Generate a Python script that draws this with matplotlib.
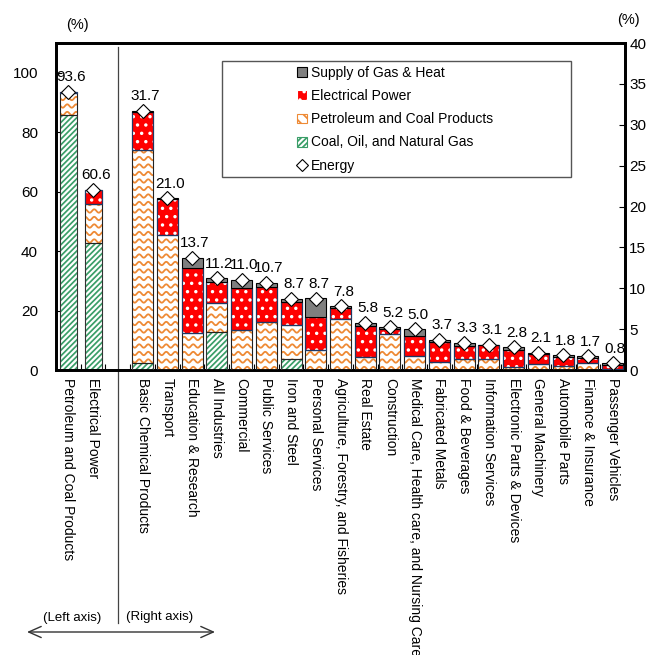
import matplotlib
matplotlib.use('Agg')
import matplotlib.pyplot as plt
import matplotlib.transforms as mtransforms
import numpy as np
from matplotlib.patches import Patch, Rectangle
from matplotlib.lines import Line2D
from matplotlib.collections import LineCollection

plt.rcParams['font.family'] = ['Liberation Sans', 'DejaVu Sans']
plt.rcParams['hatch.linewidth'] = 1.25

#================
# Data
#================

# left axis (%)
left_names = ['Petroleum and Coal Products', 'Electrical Power']
left_coal = [85.9, 42.6]
left_petro = [7.2, 13.4]
left_elec = [0.5, 4.6]
left_gas = [0.0, 0.0]
left_energy = [93.6, 60.6]

# right axis (%)
right_names = ['Basic Chemical Products', 'Transport', 'Education & Research',
               'All Industries', 'Commercial', 'Public Services', 'Iron and Steel',
               'Personal Services', 'Agriculture, Forestry, and Fisheries',
               'Real Estate', 'Construction',
               'Medical Care, Health care, and Nursing Care', 'Fabricated Metals',
               'Food & Beverages', 'Information Services',
               'Electronic Parts & Devices', 'General Machinery',
               'Automobile Parts', 'Finance & Insurance', 'Passenger Vehicles']
right_coal = [0.8, 0, 0, 4.6, 0, 0, 1.3, 0, 0, 0, 0, 0, 0, 0, 0, 0, 0, 0, 0, 0]
right_petro = [26.1, 16.5, 4.5, 3.6, 4.9, 5.9, 4.2, 2.4, 6.2, 1.6, 4.4, 1.7,
               1.0, 1.3, 1.4, 0.4, 0.7, 0.5, 0.9, 0.1]
right_elec = [4.7, 4.4, 8.0, 2.6, 5.1, 4.3, 2.8, 4.1, 1.4, 3.8, 0.6, 2.5,
              2.4, 1.6, 1.6, 2.1, 1.3, 1.1, 0.6, 0.5]
right_gas = [0.1, 0.1, 1.2, 0.5, 1.0, 0.5, 0.4, 2.3, 0.2, 0.4, 0.2, 0.8,
             0.3, 0.4, 0.1, 0.3, 0.1, 0.2, 0.2, 0.2]
right_energy = [31.7, 21.0, 13.7, 11.2, 11.0, 10.7, 8.7, 8.7, 7.8, 5.8, 5.2, 5.0,
                3.7, 3.3, 3.1, 2.8, 2.1, 1.8, 1.7, 0.8]

GREEN = '#3A9E68'
ORANGE = '#EE8A35'
RED = '#FF0000'
NAVY = '#1F3864'
GRAY = '#7F7F7F'

#===============
# Plot setup
#===============
fig = plt.figure(figsize=(6.46, 6.55), dpi=100)
ax = fig.add_axes([56 / 646, 1 - 370 / 655, 569 / 646, 327 / 655])
ax2 = ax.twinx()

x_left = np.arange(len(left_names))
x_right = np.arange(len(right_names)) + len(left_names) + 1

ax_w = 569.0
ax_h = 327.0


def waves(axis, patch):
    # wavy orange pattern clipped to the bar
    t = np.linspace(0, ax_w, 900)
    segs = []
    for yy in np.arange(-6, ax_h + 10, 7.5):
        segs.append(np.column_stack([t / ax_w,
                                     (yy + 1.7 * np.sin(2 * np.pi * t / 9.0)) / ax_h]))
    lc = LineCollection(segs, colors=ORANGE, linewidths=1.3,
                        transform=axis.transAxes, zorder=2.5)
    axis.add_collection(lc)
    lc.set_clip_path(patch)


def stack(axis, x, coal, petro, elec, gas, width):
    x = np.asarray(x, float)
    coal = np.asarray(coal, float)
    petro = np.asarray(petro, float)
    elec = np.asarray(elec, float)
    gas = np.asarray(gas, float)
    b1 = coal
    b2 = coal + petro
    b3 = b2 + elec

    m = coal > 0
    axis.bar(x[m], coal[m], width, color='white', edgecolor=GREEN,
             hatch='//////', linewidth=0, zorder=2)
    axis.bar(x[m], coal[m], width, fill=False, edgecolor='#333333',
             linewidth=0.8, zorder=3)

    m = petro > 0
    bars = axis.bar(x[m], petro[m], width, bottom=b1[m], color='white',
                    linewidth=0, zorder=2)
    for p in bars:
        waves(axis, p)
    axis.bar(x[m], petro[m], width, bottom=b1[m], fill=False,
             edgecolor='#222222', linewidth=0.8, zorder=3)

    m = elec > 0
    axis.bar(x[m], elec[m], width, bottom=b2[m], color=RED, edgecolor='white',
             hatch='..', linewidth=0, zorder=2)
    axis.bar(x[m], elec[m], width, bottom=b2[m], fill=False, edgecolor=NAVY,
             linewidth=0.9, zorder=3)

    m = gas > 0
    axis.bar(x[m], gas[m], width, bottom=b3[m], color=GRAY,
             edgecolor='black', linewidth=0.8, zorder=3)


def energy(axis, x, vals):
    axis.plot(x, vals, linestyle='none', marker='D', markersize=7,
              markerfacecolor='white', markeredgecolor='black',
              markeredgewidth=0.8, zorder=5)
    for xi, v in zip(x, vals):
        axis.annotate('%.1f' % v, (xi, v), xytext=(2, 10.5),
                      textcoords='offset points', ha='center', va='center',
                      fontsize=11, zorder=6)


stack(ax, x_left, left_coal, left_petro, left_elec, left_gas, 0.68)
energy(ax, x_left, left_energy)
stack(ax2, x_right, right_coal, right_petro, right_elec, right_gas, 0.85)
energy(ax2, x_right, right_energy)

#===============
# Axes
#===============
n_slots = len(left_names) + 1 + len(right_names)
ax.set_xlim(-0.5, n_slots - 0.5)
ax.set_ylim(0, 110)
ax.set_yticks(np.arange(0, 101, 20))
ax2.set_ylim(0, 40)
ax2.set_yticks(np.arange(0, 41, 5))

ax.set_xticks(list(x_left) + list(x_right))
ax.set_xticklabels(left_names + right_names, rotation=-90, ha='center',
                   va='top', fontsize=10)
ax.set_xticks(np.arange(0.5, n_slots - 1, 1.0), minor=True)
ax.tick_params(axis='x', which='major', length=0, pad=6)
ax.tick_params(axis='x', which='minor', direction='in', length=4, width=0.8)
ax.tick_params(axis='y', direction='in', length=4, width=0.8, pad=13,
               labelsize=11)
ax2.tick_params(axis='y', direction='in', length=4, width=0.8, pad=3,
                labelsize=11)

for a in (ax, ax2):
    for s in a.spines.values():
        s.set_linewidth(2.0)
        s.set_color('black')

# separator between left and right axis groups
trans = mtransforms.blended_transform_factory(ax.transData, ax.transAxes)
ax.plot([2, 2], [0.988, -0.774], transform=trans, clip_on=False,
        color='#444444', linewidth=0.9)

fig.text(77 / 646, 1 - 25 / 655, '(%)', ha='center', va='center', fontsize=10.5)
fig.text(628 / 646, 1 - 20 / 655, '(%)', ha='center', va='center', fontsize=10.5)

fig.text(72 / 646, 1 - 618 / 655, '(Left axis)', ha='center', va='center',
         fontsize=9.5)
fig.text(160 / 646, 1 - 617 / 655, '(Right axis)', ha='center', va='center',
         fontsize=9.5)
ax.annotate('', xy=(27, 655 - 632), xytext=(215, 655 - 632),
            xycoords='figure pixels', textcoords='figure pixels',
            arrowprops=dict(arrowstyle='<->, head_length=0.9, head_width=0.4',
                            color='#333333', lw=1.0, shrinkA=0, shrinkB=0))

#===============
# Legend
#===============
handles = [
    Patch(facecolor=GRAY, edgecolor='black', linewidth=0.8),
    Patch(facecolor=RED, edgecolor='white', hatch='..', linewidth=0.8),
    Patch(facecolor='white', edgecolor=ORANGE, hatch='\\\\\\', linewidth=0.8),
    Patch(facecolor='white', edgecolor=GREEN, hatch='//////', linewidth=0.8),
    Line2D([], [], linestyle='none', marker='D', markersize=6,
           markerfacecolor='white', markeredgecolor='black', markeredgewidth=0.8),
]
labels = ['Supply of Gas & Heat', 'Electrical Power', 'Petroleum and Coal Products',
          'Coal, Oil, and Natural Gas', 'Energy']
leg = ax2.legend(handles, labels, loc='upper left',
                 bbox_to_anchor=(297 / 646, 1 - 66 / 655),
                 bbox_transform=fig.transFigure, frameon=False, fontsize=10,
                 handlelength=0.7, handleheight=0.7, handletextpad=0.3,
                 labelspacing=0.66, borderpad=0, borderaxespad=0)
leg.set_zorder(10)
fig.add_artist(Rectangle((222 / 646, 1 - 177 / 655), 349 / 646, 116 / 655,
                         transform=fig.transFigure, fill=False,
                         edgecolor='#555555', linewidth=1.0, zorder=9))

fig.savefig('out.png', dpi=100)
